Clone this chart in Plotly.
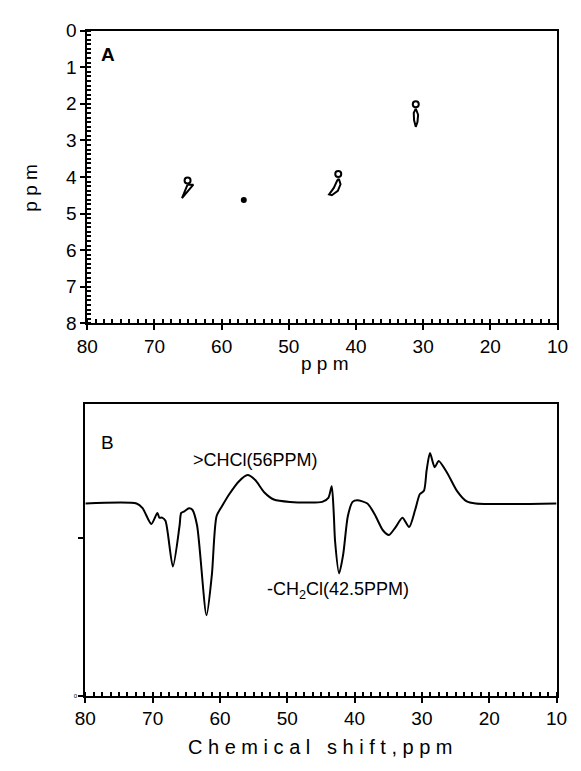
import plotly.graph_objects as go

# ---- Panel A: 2D correlation contours (13C ppm vs 1H ppm) ----
c1_x = [65.07, 64.21, 65.90, 65.07]
c1_y = [4.21, 4.21, 4.58, 4.21]
c2_x = [42.55, 42.30, 42.70, 43.60, 44.00, 43.30, 42.80, 42.55]
c2_y = [4.05, 4.20, 4.38, 4.50, 4.48, 4.30, 4.10, 4.05]
c3_x = [31.10, 30.75, 30.85, 31.10, 31.35, 31.40, 31.10]
c3_y = [2.13, 2.30, 2.50, 2.63, 2.45, 2.25, 2.13]
open_x = [65.07, 42.64, 31.10]
open_y = [4.10, 3.92, 2.01]
dot_x = [56.7]
dot_y = [4.63]

# ---- Panel B: 1D spectrum ----
shift_ppm = [80, 72.4, 71.5, 70.2, 69.3, 69.0, 68.6, 68.1, 67.0, 66.0, 65.76, 65.3,
             64.6, 64.1, 63.4, 62.0, 61.2, 60.5, 59.6, 58.6, 57.2, 55.9, 54.8, 53.4,
             52.0, 49.6, 44.8, 43.9, 43.4, 43.1, 42.9, 42.3, 41.7, 41.0, 40.3, 39.6,
             38.1, 37.0, 35.8, 34.9, 33.9, 32.9, 31.9, 31.0, 30.3, 29.7, 29.3, 28.8,
             28.1, 27.5, 26.2, 24.8, 23.4, 22.0, 10]
intensity = [1.22, 1.22, 1.19, 1.09, 1.16, 1.13, 1.13, 1.11, 0.82, 1.08, 1.16, 1.17,
             1.19, 1.18, 1.08, 0.51, 0.77, 1.14, 1.21, 1.28, 1.36, 1.40, 1.37, 1.29,
             1.245, 1.23, 1.23, 1.255, 1.33, 1.16, 0.98, 0.776, 0.895, 1.14, 1.23, 1.24,
             1.22, 1.15, 1.05, 1.02, 1.07, 1.13, 1.07, 1.18, 1.28, 1.30, 1.43, 1.54,
             1.45, 1.49, 1.41, 1.30, 1.235, 1.22, 1.22]

x_ticks = [80, 70, 60, 50, 40, 30, 20, 10]
y_ticks_a = [0, 1, 2, 3, 4, 5, 6, 7, 8]

FONT = "Liberation Sans, Arial, sans-serif"
PAGE_W, PAGE_H = 581, 771
OFF = 8  # default body margin of the html page
W, H = PAGE_W - OFF, PAGE_H - 2 * OFF


def fx(p):
    return (p - OFF) / W


def fy(p):
    return 1 - (p - OFF) / H


fig = go.Figure()
line = dict(color="black", width=2)
for cx, cy in [(c1_x, c1_y), (c2_x, c2_y), (c3_x, c3_y)]:
    fig.add_trace(go.Scatter(x=cx, y=cy, mode="lines", line=line, xaxis="x", yaxis="y",
                             showlegend=False, hoverinfo="skip"))
fig.add_trace(go.Scatter(x=open_x, y=open_y, mode="markers",
                         marker=dict(symbol="circle-open", size=6, color="black", line=dict(width=2)),
                         xaxis="x", yaxis="y", showlegend=False))
fig.add_trace(go.Scatter(x=dot_x, y=dot_y, mode="markers",
                         marker=dict(symbol="circle", size=6, color="black"),
                         xaxis="x", yaxis="y", showlegend=False))
fig.add_trace(go.Scatter(x=shift_ppm, y=intensity, mode="lines",
                         line=dict(color="black", width=2, shape="spline", smoothing=0.7),
                         xaxis="x2", yaxis="y2", showlegend=False))

axis_common = dict(showline=True, linecolor="black", linewidth=2, mirror=True,
                   showgrid=False, zeroline=False, ticks="outside", ticklen=5,
                   tickwidth=2, tickcolor="black",
                   tickfont=dict(family=FONT, size=19, color="black"))
minor_x = dict(ticks="inside", dtick=1.25, ticklen=4, tickwidth=2, tickcolor="black")

fig.update_layout(
    width=W, height=H, margin=dict(l=0, r=0, t=0, b=0),
    paper_bgcolor="white", plot_bgcolor="white",
    font=dict(family=FONT, color="black"),
    xaxis=dict(domain=[fx(79), fx(568)], range=[80, 10], anchor="y",
               tickvals=x_ticks, minor=minor_x, **axis_common),
    yaxis=dict(domain=[fy(322), fy(21)], range=[8, 0], anchor="x",
               tickvals=y_ticks_a, minor=dict(ticks="inside", dtick=0.125, ticklen=4,
                                              tickwidth=2, tickcolor="black"),
               **axis_common),
    xaxis2=dict(domain=[fx(77), fx(567)], range=[80, 10], anchor="y2",
                tickvals=x_ticks, minor=minor_x, **axis_common),
    yaxis2=dict(domain=[fy(705), fy(405)], range=[0, 300 / 162], anchor="x2",
                tickvals=[0, 1], ticktext=["0", ""],
                **{**axis_common, "tickfont": dict(family=FONT, size=6, color="black")}),
)


def note(text, x, y, xref, yref, size=19, angle=0):
    return dict(text=text, x=x, y=y, xref=xref, yref=yref, showarrow=False,
                xanchor="center", yanchor="middle", textangle=angle,
                font=dict(size=size, family=FONT, color="black"))


ann = [
    note("<b>A</b>", 76.85, 0.64, "x", "y"),
    note("B", 76.7, 1.605, "x2", "y2"),
    note(">CHCl(56PPM)", 54.7, 1.494, "x2", "y2", size=18),
    note("-CH<sub>2</sub>Cl(42.5PPM)", 42.4, 0.667, "x2", "y2", size=18),
    note("p p m", fx(326), fy(363), "paper", "paper"),
    note("p p m", fx(20), fy(183), "paper", "paper", angle=-90),
    note("C h e m i c a l   s h i f t , p p m", fx(322), fy(758), "paper", "paper", size=20),
]
fig.update_layout(annotations=ann)

fig.write_html("out.html")
